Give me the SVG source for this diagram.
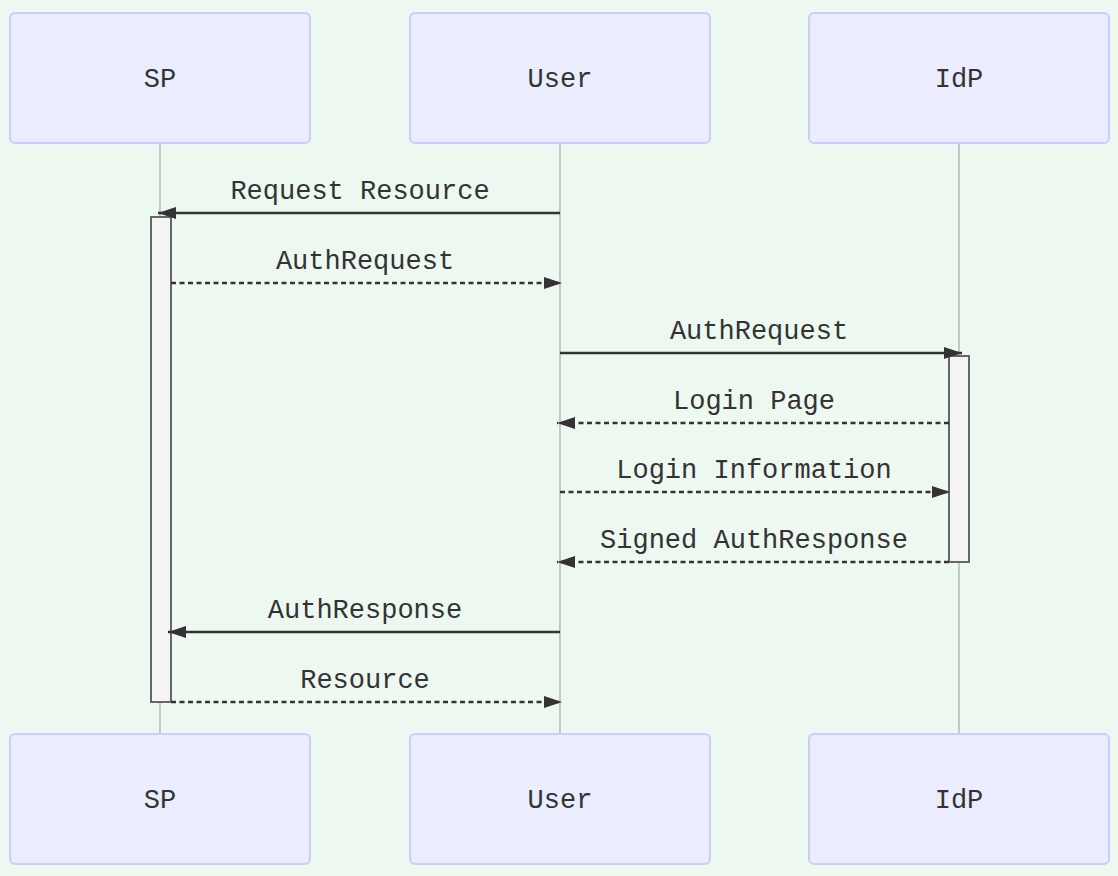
<svg xmlns="http://www.w3.org/2000/svg" width="1118" height="876" viewBox="0 0 1118 876">
<defs>
<style>
.actor rect{fill:#ECECFF;stroke:#CCCCFF;stroke-width:2}
.actor text,.lbl{font-family:"Liberation Mono","DejaVu Sans Mono",monospace;font-size:27px;fill:#333;text-anchor:middle}
.life{stroke:#999;stroke-width:1}
.act{fill:#F4F4F4;stroke:#666;stroke-width:2}
.msg{stroke:#333;stroke-width:2.5;fill:none;marker-end:url(#ah)}
.dash{stroke-dasharray:5,3.5}
</style>
<marker id="ah" markerUnits="userSpaceOnUse" markerWidth="19" markerHeight="12" refX="18" refY="6" orient="auto">
<path d="M0,0 L18,6 L0,12 z" fill="#333"/>
</marker>
</defs>
<rect width="1118" height="876" fill="#EDF8F1"/>
<g id="lifelines">
<line class="life" x1="160" y1="143" x2="160" y2="734"/>
<line class="life" x1="560" y1="143" x2="560" y2="734"/>
<line class="life" x1="959" y1="143" x2="959" y2="734"/>
</g>
<g id="SP-top" class="actor"><rect x="10" y="13" width="300" height="130" rx="5"/><text x="160" y="80" dominant-baseline="central">SP</text></g>
<g id="User-top" class="actor"><rect x="410" y="13" width="300" height="130" rx="5"/><text x="560" y="80" dominant-baseline="central">User</text></g>
<g id="IdP-top" class="actor"><rect x="809" y="13" width="300" height="130" rx="5"/><text x="959" y="80" dominant-baseline="central">IdP</text></g>
<g id="SP-bottom" class="actor"><rect x="10" y="734" width="300" height="130" rx="5"/><text x="160" y="801" dominant-baseline="central">SP</text></g>
<g id="User-bottom" class="actor"><rect x="410" y="734" width="300" height="130" rx="5"/><text x="560" y="801" dominant-baseline="central">User</text></g>
<g id="IdP-bottom" class="actor"><rect x="809" y="734" width="300" height="130" rx="5"/><text x="959" y="801" dominant-baseline="central">IdP</text></g>
<g id="activations">
<rect class="act" x="151" y="217" width="20" height="485"/>
<rect class="act" x="949" y="356" width="20" height="206"/>
</g>
<g id="connectors">
<line class="msg" x1="560" y1="213" x2="158" y2="213"/>
<text class="lbl" x="360" y="199">Request Resource</text>
<line class="msg dash" x1="171" y1="283" x2="562" y2="283"/>
<text class="lbl" x="365" y="269">AuthRequest</text>
<line class="msg" x1="560" y1="353" x2="962" y2="353"/>
<text class="lbl" x="759" y="339">AuthRequest</text>
<line class="msg dash" x1="949" y1="423" x2="557" y2="423"/>
<text class="lbl" x="754" y="409">Login Page</text>
<line class="msg dash" x1="560" y1="492" x2="950" y2="492"/>
<text class="lbl" x="754" y="478">Login Information</text>
<line class="msg dash" x1="949" y1="562" x2="557" y2="562"/>
<text class="lbl" x="754" y="548">Signed AuthResponse</text>
<line class="msg" x1="560" y1="632" x2="168" y2="632"/>
<text class="lbl" x="365" y="618">AuthResponse</text>
<line class="msg dash" x1="171" y1="702" x2="562" y2="702"/>
<text class="lbl" x="365" y="688">Resource</text>
</g>
</svg>
